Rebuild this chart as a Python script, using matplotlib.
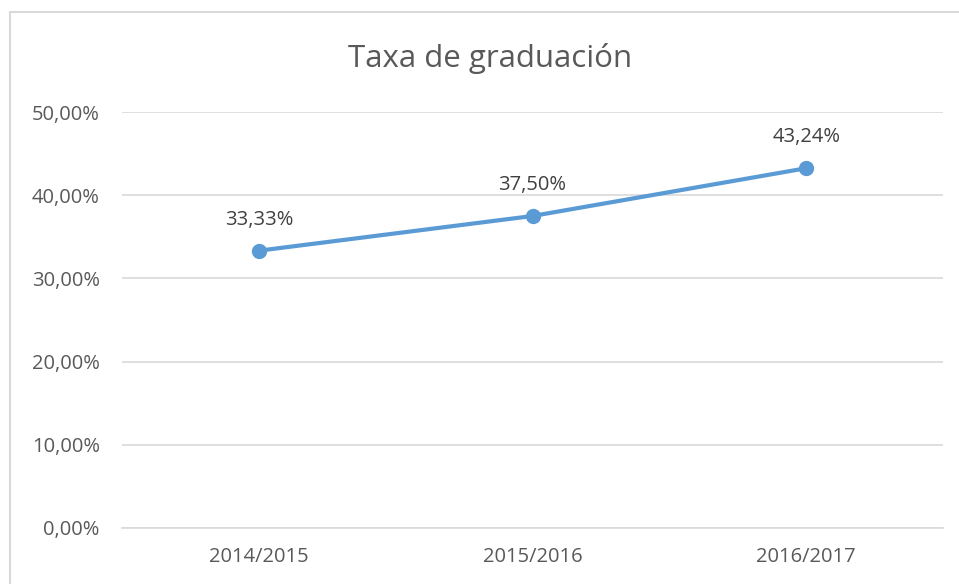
import matplotlib
matplotlib.use("Agg")
import matplotlib.pyplot as plt
from matplotlib.patches import Rectangle

categories = ["2014/2015", "2015/2016", "2016/2017"]
values = [33.33, 37.50, 43.24]
yticks = [0, 10, 20, 30, 40, 50]
title = "Taxa de graduación"

plt.rcParams['font.family'] = ['Open Sans', 'DejaVu Sans']

W, H = 959, 584
fig = plt.figure(figsize=(W / 100, H / 100), dpi=100)
fig.patch.set_facecolor("white")

# chart border (cropped at right/bottom)
fig.patches.append(Rectangle((10 / W, -0.1), 2.0, (584 - 12) / H + 0.1,
                             transform=fig.transFigure, fill=False,
                             edgecolor="#d9d9d9", linewidth=1.5))

left, right = 122 / W, 943 / W
bottom, top = (H - 528) / H, (H - 112) / H
ax = fig.add_axes([left, bottom, right - left, top - bottom])

x = list(range(len(categories)))
ax.plot(x, values, color="#5B9BD5", linewidth=3, marker="o", markersize=10,
        solid_capstyle="round", zorder=3, clip_on=False)
for xi, v in zip(x, values):
    ax.annotate(f"{v:.2f}%".replace(".", ","), (xi, v), xytext=(0, 15),
                textcoords="offset points", ha="center", va="bottom",
                fontsize=14.5, color="#404040")

ax.set_xlim(-0.5, len(categories) - 0.5)
ax.set_ylim(0, 50)
ax.set_yticks(yticks)
ax.set_yticklabels([f"{t:.2f}%".replace(".", ",") for t in yticks])
ax.set_xticks(x)
ax.set_xticklabels(categories)
ax.tick_params(axis="both", length=0, labelsize=14.5, labelcolor="#595959")
ax.tick_params(axis="y", pad=16)
ax.tick_params(axis="x", pad=14)
ax.grid(axis="y", color="#d9d9d9", linewidth=1.2)
ax.set_axisbelow(True)
for s in ["left", "right", "top"]:
    ax.spines[s].set_visible(False)
ax.spines["bottom"].set_color("#d9d9d9")
ax.spines["bottom"].set_linewidth(1.2)

fig.text(490 / W, (H - 58) / H, title, ha="center", va="center",
         fontsize=22.5, color="#595959")

fig.savefig("out.png", dpi=100)
